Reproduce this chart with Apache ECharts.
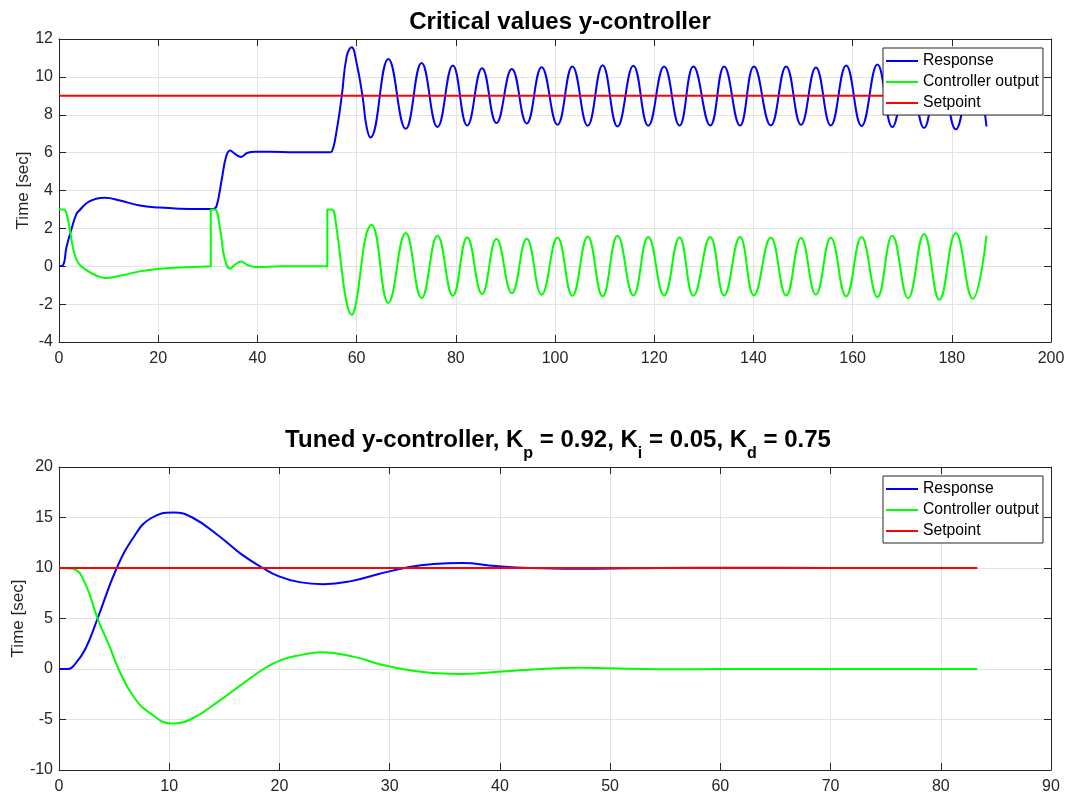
<!DOCTYPE html>
<html>
<head>
<meta charset="utf-8">
<script src="https://cdn.jsdelivr.net/npm/echarts@6/dist/echarts.min.js"></script>
<style>
  html, body { margin: 0; padding: 0; background: #fff; }
  #chart { width: 1070px; height: 794px; }
</style>
</head>
<body>
<div id="chart"></div>
<script>
// top plot: critical gain test, [time, value]
const critResponse = [
  [0, 0], [0.8, 0.05], [1.5, 1.0], [2.5, 1.95], [3.5, 2.75], [4.2, 2.97], [5.6, 3.34], [7.0, 3.52],
  [8.3, 3.6], [9.3, 3.62], [12.3, 3.47], [16.3, 3.21], [20.3, 3.1], [24.4, 3.04], [28.4, 3.02],
  [31.1, 3.02], [31.8, 3.2], [32.8, 4.57], [33.7, 5.8], [34.5, 6.11], [35.5, 5.93], [36.7, 5.77],
  [37.9, 5.98], [39.6, 6.05], [45, 6.03], [50, 6.02], [54.6, 6.02], [55.0, 6.05], [56.0, 7.2],
  [57.0, 8.97], [58.0, 11.08], [59.0, 11.57], [60.0, 10.73], [61.2, 8.97], [62.0, 7.38],
  [62.8, 6.8], [66.4, 10.94], [69.9, 7.26], [73.1, 10.73], [76.3, 7.35], [79.4, 10.6],
  [82.3, 7.43], [85.3, 10.46], [88.2, 7.56], [91.3, 10.42], [94.3, 7.54], [97.3, 10.51],
  [100.5, 7.47], [103.5, 10.55], [106.6, 7.42], [109.6, 10.62], [112.6, 7.38], [115.8, 10.59],
  [118.8, 7.42], [122.0, 10.55], [125.1, 7.43], [127.9, 10.55], [131.3, 7.43], [134.1, 10.55],
  [137.3, 7.43], [140.1, 10.55], [143.5, 7.43], [146.6, 10.55], [149.6, 7.47], [152.6, 10.5],
  [155.6, 7.43], [158.7, 10.6], [161.8, 7.41], [165.0, 10.66], [168.0, 7.35], [171.2, 10.7],
  [174.4, 7.3], [177.5, 10.75], [180.8, 7.23], [184.2, 10.8], [187.0, 7.38]
];
const critOutput = [
  [0, 3.0], [1.0, 3.0], [1.6, 2.7], [2.2, 1.93], [2.9, 0.87], [3.9, 0.17], [5.6, -0.22],
  [7.6, -0.5], [9.3, -0.62], [12.3, -0.5], [16.3, -0.27], [20.3, -0.13], [24.4, -0.06],
  [28.4, -0.02], [30.6, 0], [30.6, 3.0], [31.4, 3.0], [32.5, 1.93], [33.3, 0.52], [34.5, -0.13],
  [35.5, 0.08], [36.7, 0.25], [37.9, 0.08], [39.6, -0.04], [45, 0], [50, 0], [54.1, 0],
  [54.1, 3.0], [55.0, 3.0], [56.0, 1.93], [57.0, -0.18], [58.0, -1.94], [59.0, -2.56],
  [60.0, -1.76], [61.0, 0.17], [62.0, 1.75], [63.0, 2.19], [66.4, -1.94], [69.9, 1.75],
  [73.1, -1.68], [76.3, 1.61], [79.4, -1.56], [82.3, 1.52], [85.3, -1.47], [88.2, 1.44],
  [91.3, -1.42], [94.3, 1.45], [97.3, -1.5], [100.5, 1.52], [103.5, -1.56], [106.6, 1.57],
  [109.6, -1.59], [112.6, 1.61], [115.8, -1.54], [118.8, 1.54], [122.0, -1.54], [125.1, 1.52],
  [127.9, -1.56], [131.3, 1.54], [134.1, -1.54], [137.3, 1.54], [140.1, -1.54], [143.5, 1.52],
  [146.6, -1.54], [149.6, 1.49], [152.6, -1.5], [155.6, 1.5], [158.7, -1.59], [161.8, 1.54],
  [165.0, -1.63], [168.0, 1.61], [171.2, -1.68], [174.4, 1.7], [177.5, -1.77], [180.8, 1.75],
  [184.2, -1.72], [187.0, 1.61]
];
const critSetpoint = [[0, 9], [187, 9]];

// bottom plot: tuned controller
const tunedResponse = [
  [0, 0], [0.84, 0], [1.47, 0.5], [2.4, 2.0], [3.5, 5.0], [5.2, 9.9], [6.8, 13.1], [8.3, 14.9],
  [10.4, 15.5], [12.1, 15.0], [14.6, 13.1], [16.5, 11.4], [18.5, 10.0], [19.9, 9.2], [21.8, 8.6],
  [24.0, 8.4], [26.5, 8.7], [29.0, 9.4], [31.8, 10.1], [34.0, 10.4], [36.6, 10.5], [39.6, 10.2],
  [42.7, 10.0], [47.2, 9.93], [52, 9.97], [58, 10.02], [65, 10.02], [75, 10.0], [83.3, 10.0]
];
const tunedOutput = [
  [0, 10], [1.3, 9.9], [2.4, 8.4], [3.5, 5.0], [4.6, 2.2], [5.4, 0], [6.8, -2.8], [8.3, -4.4],
  [10.2, -5.4], [12.1, -4.9], [14.6, -3.1], [16.5, -1.6], [18.7, 0.1], [20.2, 0.9], [21.8, 1.35],
  [23.8, 1.65], [26.8, 1.2], [29.0, 0.5], [31.8, -0.13], [34.0, -0.4], [36.5, -0.5], [39.6, -0.3],
  [42.7, -0.07], [47.2, 0.13], [50, 0.07], [54.5, -0.03], [60, 0], [70, 0], [83.3, 0]
];
const tunedSetpoint = [[0, 10], [83.3, 10]];

const seriesNames = ['Response', 'Controller output', 'Setpoint'];
const seriesColors = ['#0000ff', '#00ff00', '#ff0000'];

const FONT = '"Liberation Sans", Arial, Helvetica, sans-serif';
const AX = '#262626';

function xAxisPair(grid, min, max, step) {
    return [
        {
            gridIndex: grid, type: 'value', min: min, max: max, interval: step,
            axisLine: { onZero: false, lineStyle: { color: AX, width: 1 } },
            axisTick: { inside: true, length: 7, lineStyle: { color: AX } },
            axisLabel: { color: AX, fontSize: 16, fontFamily: FONT, margin: 9 },
            splitLine: { show: true, lineStyle: { color: '#e3e3e3', width: 1 } }
        },
        {
            gridIndex: grid, type: 'value', position: 'top', min: min, max: max, interval: step,
            axisLine: { onZero: false, lineStyle: { color: AX, width: 1 } },
            axisTick: { inside: true, length: 7, lineStyle: { color: AX } },
            axisLabel: { show: false }, splitLine: { show: false }
        }
    ];
}

function yAxisPair(grid, min, max, step, gap) {
    return [
        {
            gridIndex: grid, type: 'value', min: min, max: max, interval: step,
            name: 'Time [sec]', nameLocation: 'middle', nameGap: gap, nameMoveOverlap: false,
            nameTextStyle: { color: AX, fontSize: 17, fontFamily: FONT },
            axisLine: { show: true, onZero: false, lineStyle: { color: AX, width: 1 } },
            axisTick: { show: true, inside: true, length: 7, lineStyle: { color: AX } },
            axisLabel: { color: AX, fontSize: 16, fontFamily: FONT, margin: 6 },
            splitLine: { show: true, lineStyle: { color: '#e3e3e3', width: 1 } }
        },
        {
            gridIndex: grid, type: 'value', position: 'right', min: min, max: max, interval: step,
            axisLine: { show: true, onZero: false, lineStyle: { color: AX, width: 1 } },
            axisTick: { show: true, inside: true, length: 7, lineStyle: { color: AX } },
            axisLabel: { show: false }, splitLine: { show: false }
        }
    ];
}

function lineSeries(name, color, data, xi, yi) {
    return {
        name: name, type: 'line', data: data,
        xAxisIndex: xi, yAxisIndex: yi,
        showSymbol: false, symbol: 'none', smooth: 0.45,
        lineStyle: { color: color, width: 2 }, itemStyle: { color: color },
        animation: false
    };
}

function legendAt(top) {
    return {
        orient: 'vertical', left: 883, top: top,
        data: seriesNames, icon: 'rect', itemWidth: 32, itemHeight: 2, itemGap: 5,
        padding: [5, 4, 4, 3],
        backgroundColor: '#fff', borderColor: AX, borderWidth: 1, borderRadius: 0,
        textStyle: { color: '#000', fontSize: 15.7, fontFamily: FONT },
        selectedMode: false
    };
}

const chart = echarts.init(document.getElementById('chart'), null, { renderer: 'canvas' });

chart.setOption({
    backgroundColor: '#fff',
    animation: false,
    title: [
        {
            text: 'Critical values y-controller', left: 555, textAlign: 'center', top: 5,
            textStyle: { fontSize: 24, fontWeight: 'bold', color: '#000', fontFamily: FONT }
        },
        {
            text: '{b|Tuned y-controller, K}{s|p}{b| = 0.92, K}{s|i}{b| = 0.05, K}{s|d}{b| = 0.75}',
            left: 553, textAlign: 'center', top: 423,
            textStyle: {
                rich: {
                    b: { fontSize: 24, fontWeight: 'bold', color: '#000', fontFamily: FONT, lineHeight: 28, verticalAlign: 'top' },
                    s: { fontSize: 16, fontWeight: 'bold', color: '#000', fontFamily: FONT, lineHeight: 28, verticalAlign: 'top', padding: [18, 0, 0, 0] }
                }
            }
        }
    ],
    legend: [legendAt(48), legendAt(476)],
    grid: [
        { left: 59, right: 19, top: 39, height: 303, outerBoundsMode: 'none' },
        { left: 59, right: 19, top: 467, height: 303, outerBoundsMode: 'none' }
    ],
    xAxis: [].concat(xAxisPair(0, 0, 200, 20), xAxisPair(1, 0, 90, 10)),
    yAxis: [].concat(yAxisPair(0, -4, 12, 2, 27), yAxisPair(1, -10, 20, 5, 32)),
    series: [
        lineSeries(seriesNames[0], seriesColors[0], critResponse, 0, 0),
        lineSeries(seriesNames[1], seriesColors[1], critOutput, 0, 0),
        lineSeries(seriesNames[2], seriesColors[2], critSetpoint, 0, 0),
        lineSeries(seriesNames[0], seriesColors[0], tunedResponse, 2, 2),
        lineSeries(seriesNames[1], seriesColors[1], tunedOutput, 2, 2),
        lineSeries(seriesNames[2], seriesColors[2], tunedSetpoint, 2, 2)
    ]
});

window.addEventListener('resize', () => chart.resize());
</script>
</body>
</html>
